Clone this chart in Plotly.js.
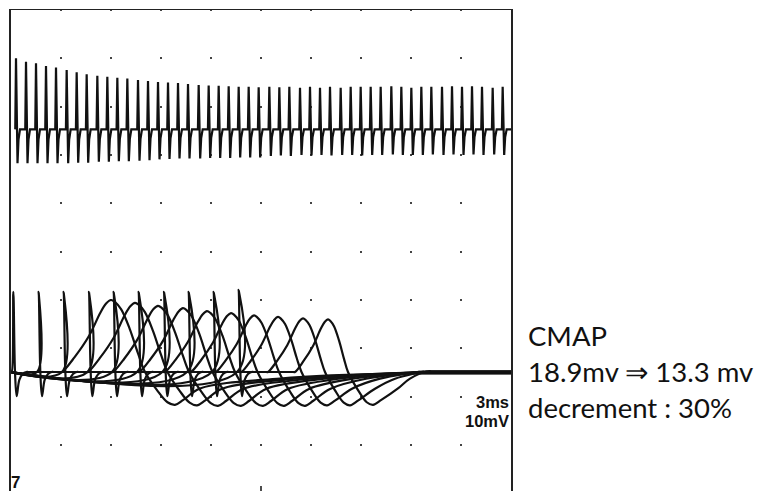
<!DOCTYPE html>
<html><head><meta charset="utf-8">
<script src="https://cdn.plot.ly/plotly-3.0.1.min.js"></script>
<style>html,body{margin:0;padding:0;background:#fff;}#chart{width:758px;height:491px;}</style>
</head><body><div id="chart"></div>
<script>
// ---------- Upper trace: repetitive stimulation train (time in ms, display units) ----------
const topBaseline = 75.3;
const topSpikeTimes = [0.30,0.90,1.50,2.10,2.70,3.34,3.94,4.54,5.18,5.78,6.38,6.98,7.62,8.22,8.82,9.42,10.02,10.62,11.26,11.86,12.46,13.06,13.66,14.26,14.86,
  15.50,16.10,16.70,17.34,17.94,18.54,19.14,19.78,20.38,20.98,21.58,22.18,22.82,23.42,24.02,24.62,25.22,25.86,26.46,27.06,27.66,28.26,28.90,29.50];
const topSpikeUp = [14.7,14.0,13.7,13.1,12.8,12.3,11.8,11.4,11.1,10.9,10.7,10.5,10.2,10.0,9.8,9.7,9.6,9.4,9.2,9.1,9.0,8.9,8.8,8.8,8.7,
  8.8,8.7,8.8,8.6,8.8,8.6,8.8,8.6,8.8,8.8,8.8,8.8,8.9,8.8,8.6,8.8,8.8,8.8,8.9,8.8,8.9,8.8,8.6,8.8];
const topSpikeDown = [7.0,7.0,7.0,7.0,7.0,7.0,6.9,6.9,6.7,6.7,6.6,6.6,6.5,6.4,6.2,6.1,6.0,6.0,6.0,5.9,5.9,5.9,5.8,5.8,5.8,
  5.5,5.4,5.5,5.3,5.4,5.3,5.4,5.3,5.3,5.4,5.3,5.3,5.2,5.3,5.3,5.3,5.2,5.3,5.2,5.3,5.2,5.3,5.2,5.3];

// ---------- Lower traces: 10 superimposed CMAP responses ----------
const cmapBaseline = 25.1;
const artifactTimes = [0.14,1.66,3.16,4.68,6.16,7.66,9.18,10.66,12.16,13.66];
const artifactUp = [16.6,16.6,16.6,16.6,16.6,16.6,16.6,16.6,16.6,17.0];
const artifactDown = [5.0,5.0,5.0,5.0,5.0,5.0,5.0,5.0,5.0,5.0];
const cmapOnset = [3.06,4.62,6.12,7.71,9.24,10.80,12.30,13.83,15.42,17.04];
const cmapPeakTime = [6.00,7.44,8.82,10.32,11.76,13.20,14.58,16.02,17.52,19.02];
const cmapPeakAmp = [14.9,14.3,13.7,13.2,12.6,12.2,11.7,11.4,11.1,10.9];
const cmapCrossTime = [8.04,9.39,10.68,12.09,13.44,14.79,16.08,17.43,18.84,20.22];
const cmapTroughTime = [9.84,11.16,12.42,13.80,15.12,16.38,17.64,18.96,20.34,21.72];
const cmapTroughAmp = [6.8,6.9,7.0,7.0,7.0,7.0,7.0,6.9,6.9,6.8];
const cmapRecoveryEnd = [23.34,23.64,23.94,24.06,24.24,24.42,24.54,24.66,24.84,25.02];
const cmapTailLevel = [-0.30,-0.20,-0.25,-0.10,-0.15,0.0,-0.05,0.10,0.05,0.15];

// ---------- Text ----------
const scaleLabels = ['3ms','10mV'];
const noteLines = ['CMAP','18.9mv \u21D2 13.3 mv','decrement : 30%'];

const XMAX = 30;
const traces = [];

// upper trace
(function(){
  const B = topBaseline, x = [], y = [];
  topSpikeTimes.forEach((t,i)=>{
    const u = topSpikeUp[i], d = topSpikeDown[i];
    x.push(t-0.045, t, t+0.09, t+0.15, t+0.24);
    y.push(B, B+u, B-d, B-0.3*d, B);
  });
  x.push(XMAX); y.push(B);
  traces.push({x, y, type:'scatter', mode:'lines', hoverinfo:'skip',
    line:{color:'#111', width:2.2, shape:'linear'}});
})();

// lower traces
for(let i=0;i<artifactTimes.length;i++){
  const B = cmapBaseline, x=[0], y=[B];
  const s = artifactTimes[i], up = artifactUp[i], dn = artifactDown[i];
  x.push(s-0.10, s, s+0.10, s+0.20, s+0.36, s+0.56, s+0.78, s+0.9);
  y.push(B, B+up, B, B-dn, B-0.33*dn, B-0.08*dn, B, B);
  const on=cmapOnset[i], pk=cmapPeakTime[i], A=cmapPeakAmp[i], cr=cmapCrossTime[i],
        tr=cmapTroughTime[i], D=cmapTroughAmp[i], en=cmapRecoveryEnd[i], L=B+cmapTailLevel[i];
  const rise=pk-on, fall=cr-pk, neg=tr-cr;
  const r1 = tr+1.5, r2 = r1 + 0.4*(en-r1);
  x.push(on-0.1, on, on+0.25*rise, on+0.55*rise, on+0.78*rise, on+0.9*rise, pk,
         pk+0.12*fall, pk+0.3*fall, pk+0.55*fall, pk+0.8*fall, cr, cr+0.4*neg, cr+0.75*neg, tr,
         tr+0.5, r1, r2, en, en+0.2, XMAX);
  y.push(B, B, B+0.2*A, B+0.5*A, B+0.82*A, B+0.95*A, B+A,
         B+0.97*A, B+0.87*A, B+0.6*A, B+0.25*A, B, B-0.55*D, B-0.92*D, B-D,
         B-0.85*D, B-0.5*D, B-0.2*D, L, L, L);
  traces.push({x, y, type:'scatter', mode:'lines', hoverinfo:'skip',
    line:{color:'#111', width:2.2, shape:'spline', smoothing:1}});
}

// pixel helpers for paper coords (plot area: x 11..511, y 10..491)
const px = v => (v-11)/500;
const py = v => (491-v)/481;

const annotations = [
  {xref:'paper', yref:'paper', x:px(510.5), y:py(402), xanchor:'right', yanchor:'middle', showarrow:false,
   text:'<b>'+scaleLabels[0]+'</b>', font:{family:'Liberation Sans, Arial, sans-serif', size:16.5, color:'#111'}},
  {xref:'paper', yref:'paper', x:px(510.5), y:py(420.5), xanchor:'right', yanchor:'middle', showarrow:false,
   text:'<b>'+scaleLabels[1]+'</b>', font:{family:'Liberation Sans, Arial, sans-serif', size:16.5, color:'#111'}},
  {xref:'paper', yref:'paper', x:px(9), y:py(482), xanchor:'left', yanchor:'middle', showarrow:false,
   text:'<b>7</b>', font:{family:'Liberation Sans, Arial, sans-serif', size:17, color:'#111'}},
];
const noteY = [335, 372, 407];
noteLines.forEach((t,i)=>annotations.push({xref:'paper', yref:'paper', x:px(526), y:py(noteY[i]),
  xanchor:'left', yanchor:'middle', showarrow:false, text:t,
  font:{family:'Lato, "Open Sans", sans-serif', size:27.5, color:'#111'}}));

const layout = {
  width:758, height:491,
  margin:{l:11, r:247, t:10, b:0, pad:0},
  paper_bgcolor:'#fff', plot_bgcolor:'#fff',
  showlegend:false,
  xaxis:{range:[0,XMAX], tick0:0, dtick:3, showgrid:true, gridcolor:'#444', gridwidth:2,
         griddash:'1px,46.33px,1px,0px', zeroline:false, showticklabels:false, ticks:'',
         showline:true, linecolor:'#222', linewidth:1.5, side:'top', fixedrange:true},
  yaxis:{range:[0.48,100], showgrid:false, zeroline:false, showticklabels:false, ticks:'',
         showline:true, mirror:true, linecolor:'#222', linewidth:2, fixedrange:true},
  annotations,
  shapes:[{type:'line', xref:'x', yref:'paper', x0:15, x1:15, y0:0, y1:py(486), line:{color:'#111', width:1.5}}]
};
Plotly.newPlot('chart', traces, layout, {displayModeBar:false, staticPlot:true});
</script>
</body></html>
